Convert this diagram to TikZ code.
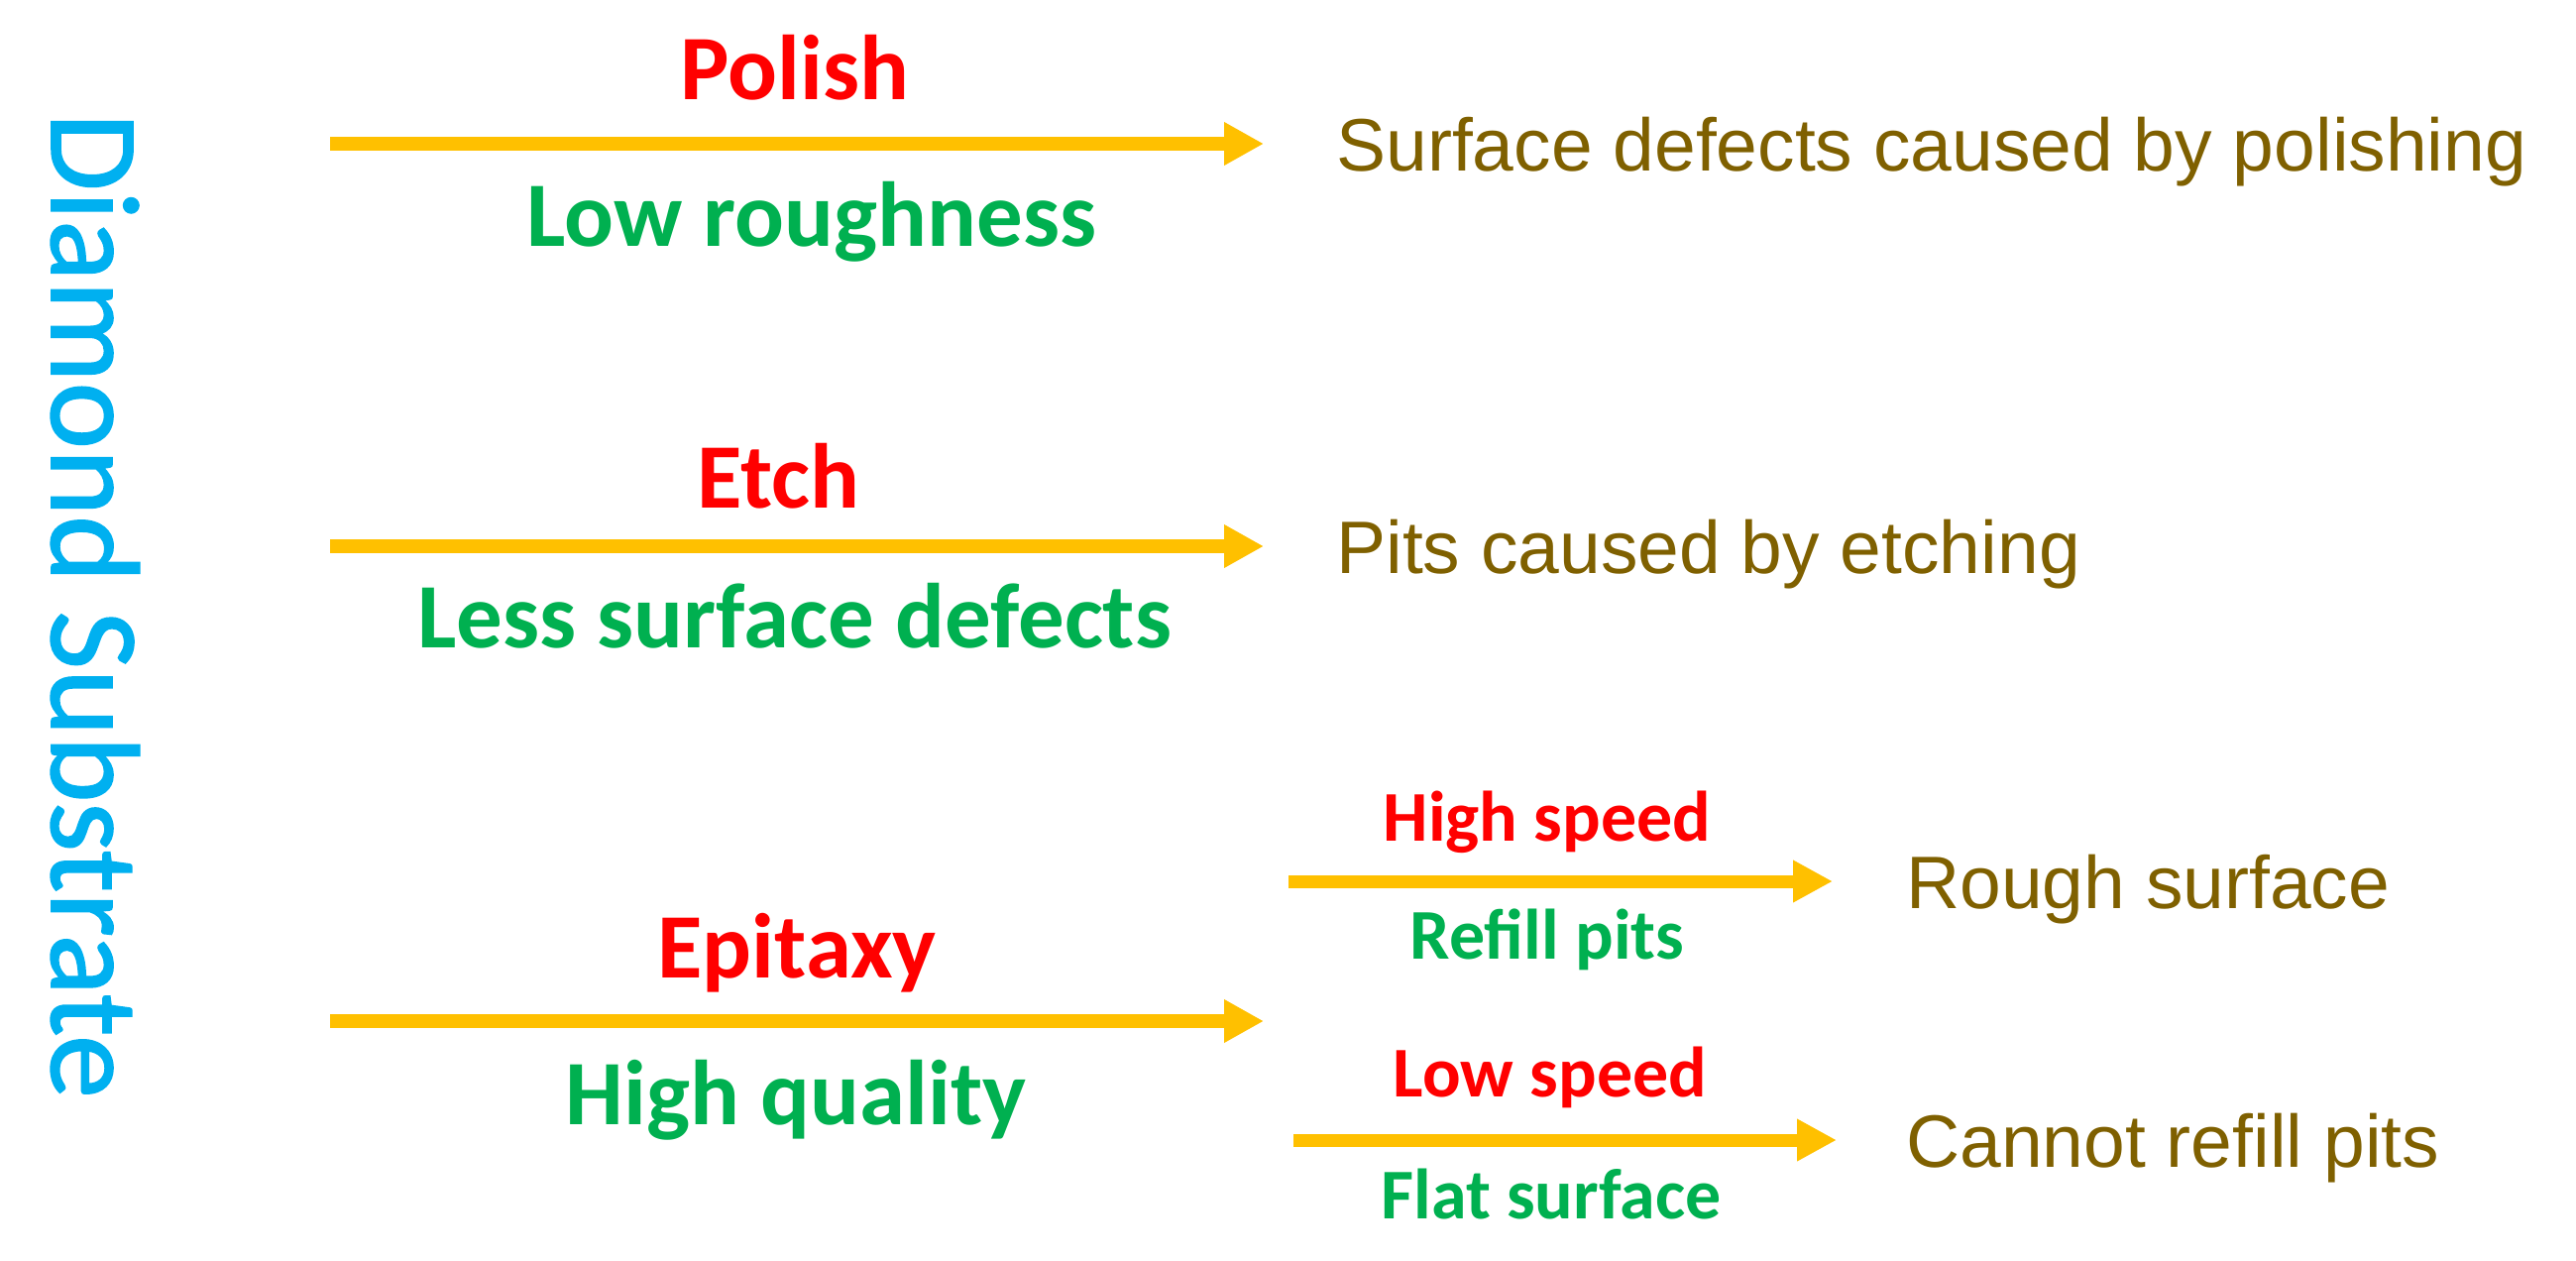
\documentclass[tikz,border=0pt]{standalone}
\usepackage{fontspec}
\setmainfont{Liberation Sans}
\newfontfamily\lblfont{Carlito}
\newfontfamily\titlefont[FakeBold=1.2]{Carlito}
\newfontfamily\brfont{Liberation Sans}
\usetikzlibrary{arrows.meta}
\definecolor{arrowc}{HTML}{FFC000}
\definecolor{redc}{HTML}{FF0000}
\definecolor{greenc}{HTML}{00B050}
\definecolor{brownc}{HTML}{7F6000}
\definecolor{bluec}{HTML}{00B0F0}
\tikzset{
  bigarrow/.style={draw=arrowc, line width=7pt, -{Triangle[length=20pt,width=20.5pt]}},
  smallarrow/.style={draw=arrowc, line width=6.5pt, -{Triangle[length=20pt,width=20pt]}},
  biglbl/.style={inner sep=0pt, anchor=base, font=\lblfont\bfseries\fontsize{46.5}{54}\selectfont},
  smalllbl/.style={inner sep=0pt, anchor=base, font=\lblfont\bfseries\fontsize{36}{42}\selectfont},
  proc/.style={text=redc},
  gain/.style={text=greenc},
  result/.style={inner sep=0pt, anchor=base west, text=brownc, font=\brfont\fontsize{37.5}{45}\selectfont},
  title/.style={inner sep=0pt, anchor=base, rotate=-90, text=bluec, font=\titlefont\fontsize{64}{75}\selectfont}
}
\begin{document}
\begin{tikzpicture}[x=0.5pt,y=-0.5pt]
\useasboundingbox (0,0) rectangle (2599,1271);
% title
\node[title] (title) at (52,611) {Diamond Substrate};
% arrow coordinates
\coordinate (p1) at (333,145);  \coordinate (p2) at (1275,145);
\coordinate (e1) at (333,551);  \coordinate (e2) at (1275,551);
\coordinate (x1) at (333,1030); \coordinate (x2) at (1275,1030);
\coordinate (h1) at (1300,889); \coordinate (h2) at (1849,889);
\coordinate (l1) at (1305,1150); \coordinate (l2) at (1853,1150);
\draw[bigarrow] (p1) -- (p2);
\draw[bigarrow] (e1) -- (e2);
\draw[bigarrow] (x1) -- (x2);
\draw[smallarrow] (h1) -- (h2);
\draw[smallarrow] (l1) -- (l2);
% labels
\node[biglbl,proc] (polish) at (802,100) {Polish};
\node[biglbl,gain] (lowr) at (819,248) {Low roughness};
\node[biglbl,proc] (etch) at (785,512) {Etch};
\node[biglbl,gain] (less) at (802,653) {Less surface defects};
\node[biglbl,proc] (epi) at (804,986) {Epitaxy};
\node[biglbl,gain] (hq) at (803,1134) {High quality};
\node[smalllbl,proc] (hs) at (1561,848) {High speed};
\node[smalllbl,gain] (rp) at (1561,967) {Refill pits};
\node[smalllbl,proc] (ls) at (1564,1106) {Low speed};
\node[smalllbl,gain] (fs) at (1565,1229) {Flat surface};
% results
\node[result] (r1) at (1348,172) {Surface defects caused by polishing};
\node[result] (r2) at (1348,578) {Pits caused by etching};
\node[result] (r3) at (1923,916) {Rough surface};
\node[result] (r4) at (1923,1177) {Cannot refill pits};
\end{tikzpicture}
\end{document}
